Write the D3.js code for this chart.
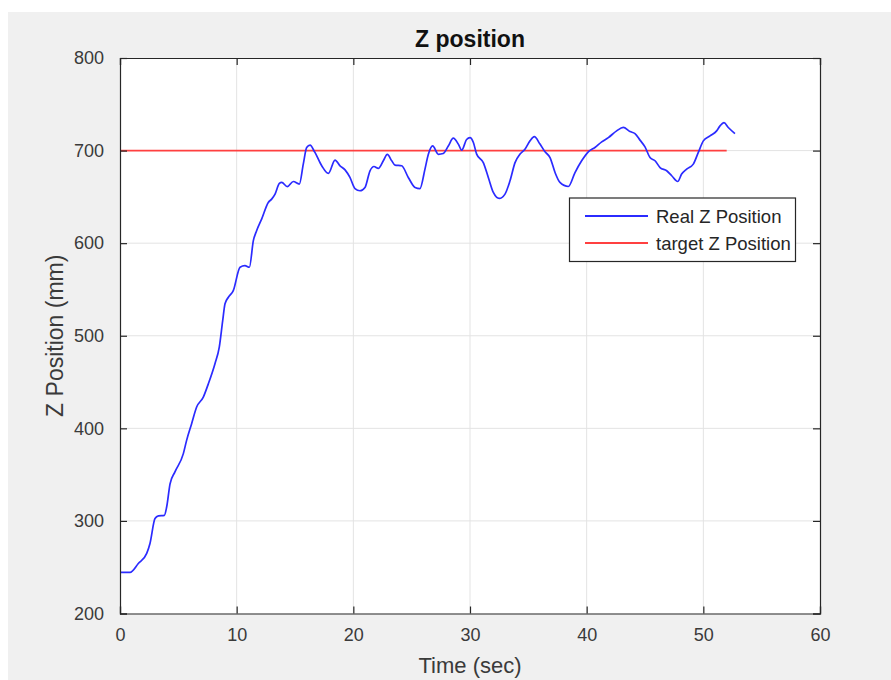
<!DOCTYPE html>
<html><head><meta charset="utf-8">
<script src="https://cdn.jsdelivr.net/npm/d3@7"></script>
<style>
html,body{margin:0;padding:0;background:#fff;}
svg{display:block;font-family:"Liberation Sans",Arial,Helvetica,sans-serif;}
</style></head>
<body>
<svg id="chart" width="891" height="680"></svg>
<script>
const timeSec = [0,0.86,1.57,2.29,2.57,3.0,3.29,3.8,4.0,4.29,4.71,5.43,5.71,6.14,6.57,7.14,7.57,8.14,8.51,8.8,9.0,9.29,9.71,10.29,10.71,11.09,11.43,11.71,12.14,12.71,13.0,13.29,13.66,13.86,14.34,14.86,15.37,15.71,16.0,16.29,16.71,17.29,17.86,18.43,18.86,19.29,19.71,20.14,20.57,21.0,21.43,21.77,22.14,22.57,22.91,23.29,23.57,24.14,24.71,25.29,25.71,26.14,26.43,26.8,27.29,27.71,28.14,28.57,29.0,29.29,29.71,30.0,30.29,30.57,31.14,31.57,32.0,32.51,33.0,33.43,33.86,34.29,34.71,35.14,35.51,36.0,36.43,36.86,37.29,37.71,38.43,39.0,39.57,40.14,40.71,41.29,41.86,42.57,43.14,43.71,44.14,44.57,45.0,45.43,45.86,46.29,46.86,47.29,47.8,48.14,48.57,49.14,49.57,50.0,50.57,51.14,51.43,51.77,52.14,52.71];
const realZ = [244.4,244.4,254,265,275.7,302.6,305.4,306,315,340,353,372.7,387,405,423,433.7,448,469.8,487.7,516,534.5,541.6,548.8,574,575.7,574,602.7,613.5,626,644,647.6,653,664.5,665.6,661,666.6,663.8,685.4,703.3,706,698,683.6,675.3,689.7,683.6,679.2,671,659,656.6,660.2,678.2,682.8,680.7,689,696,689,684.3,683.6,671,660.2,659,680,696,705,696,696.8,705,713.4,707,700.5,712,714,708.7,696.2,687,671,654.8,648.3,653,667.4,687,696.2,701.5,710.5,715,707,698.7,692.5,676.3,665.6,661.2,676.3,689,698.7,703.3,709.4,714,721.3,725,720.5,718.4,711.3,704,692.5,689,681.7,678.2,672.8,666.6,674.6,680,685.4,698,710.5,715.9,721.3,726.7,730.2,724.9,718.4];
const targetTime = [0, 52];
const targetZ = [700, 700];
const xTicks = [0,10,20,30,40,50,60];
const yTicks = [200,300,400,500,600,700,800];
const seriesNames = ["Real Z Position","target Z Position"];
const titleText = "Z position";
const xLabel = "Time (sec)";
const yLabel = "Z Position (mm)";

const svg = d3.select("#chart");
const L=120,R=820,T=58,B=613.5;
const axisCol="#262626";

svg.append("rect").attr("x",8).attr("y",12).attr("width",883).attr("height",668).attr("fill","#f0f0f0");

const x = d3.scaleLinear().domain([0,60]).range([L,R]);
const y = d3.scaleLinear().domain([200,800]).range([B,T]);

svg.append("rect").attr("x",L).attr("y",T).attr("width",R-L).attr("height",B-T).attr("fill","#fff");

// grid
const g = svg.append("g");
g.selectAll(".vg").data(xTicks.slice(1,-1)).enter().append("line")
  .attr("x1",d=>x(d)).attr("x2",d=>x(d)).attr("y1",T).attr("y2",B)
  .attr("stroke","#e3e3e3").attr("stroke-width",1);
g.selectAll(".hg").data(yTicks.slice(1,-1)).enter().append("line")
  .attr("x1",L).attr("x2",R).attr("y1",d=>y(d)).attr("y2",d=>y(d))
  .attr("stroke","#e3e3e3").attr("stroke-width",1);

// data lines
const realData = timeSec.map((t,i)=>[t,realZ[i]]);
const targData = targetTime.map((t,i)=>[t,targetZ[i]]);
const line = d3.line().x(d=>x(d[0])).y(d=>y(d[1])).curve(d3.curveMonotoneX);
svg.append("path").datum(targData).attr("d",line).attr("fill","none")
  .attr("stroke","#ff4040").attr("stroke-width",1.8);
svg.append("path").datum(realData).attr("d",line).attr("fill","none")
  .attr("stroke","#2b2bff").attr("stroke-width",1.7).attr("stroke-linejoin","round");

// axes
const xAxis = d3.axisBottom(x).tickValues(xTicks).tickSize(-7).tickPadding(15).tickFormat(d3.format("d"));
const yAxis = d3.axisLeft(y).tickValues(yTicks).tickSize(-7).tickPadding(16).tickFormat(d3.format("d"));
const xa = svg.append("g").attr("transform",`translate(0,${B})`).call(xAxis);
const ya = svg.append("g").attr("transform",`translate(${L},0)`).call(yAxis);
const xt = svg.append("g").attr("transform",`translate(0,${T})`).call(d3.axisTop(x).tickValues(xTicks).tickSize(-7).tickFormat(""));
const yr = svg.append("g").attr("transform",`translate(${R},0)`).call(d3.axisRight(y).tickValues(yTicks).tickSize(-7).tickFormat(""));
[xa,ya,xt,yr].forEach(a=>{
  a.select(".domain").attr("stroke",axisCol).attr("stroke-width",1.2);
  a.selectAll(".tick line").attr("stroke",axisCol).attr("stroke-width",1.2);
  a.selectAll(".tick text").attr("fill","#3a3a3a").attr("font-size","18px")
   .attr("font-family","'Liberation Sans',Arial,sans-serif");
});

// title & labels
svg.append("text").attr("x",(L+R)/2).attr("y",47).attr("text-anchor","middle")
  .attr("font-size","23px").attr("font-weight","bold").attr("fill","#111").text(titleText);
svg.append("text").attr("x",(L+R)/2).attr("y",673).attr("text-anchor","middle")
  .attr("font-size","22px").attr("fill","#3a3a3a").text(xLabel);
svg.append("text").attr("transform",`translate(63,${(T+B)/2}) rotate(-90)`).attr("text-anchor","middle")
  .attr("font-size","23px").attr("fill","#3a3a3a").text(yLabel);

// legend
const lg = svg.append("g");
lg.append("rect").attr("x",569.5).attr("y",198).attr("width",226).attr("height",63.5)
  .attr("fill","#fff").attr("stroke",axisCol).attr("stroke-width",1.2);
const legColors = ["#2b2bff","#ff4040"];
const legY = [216,243];
seriesNames.forEach((n,i)=>{
  lg.append("line").attr("x1",585).attr("x2",648).attr("y1",legY[i]).attr("y2",legY[i])
    .attr("stroke",legColors[i]).attr("stroke-width",1.8);
  lg.append("text").attr("x",656).attr("y",legY[i]+6.5).attr("font-size","18.5px")
    .attr("fill","#262626").text(n);
});
</script>
</body></html>
